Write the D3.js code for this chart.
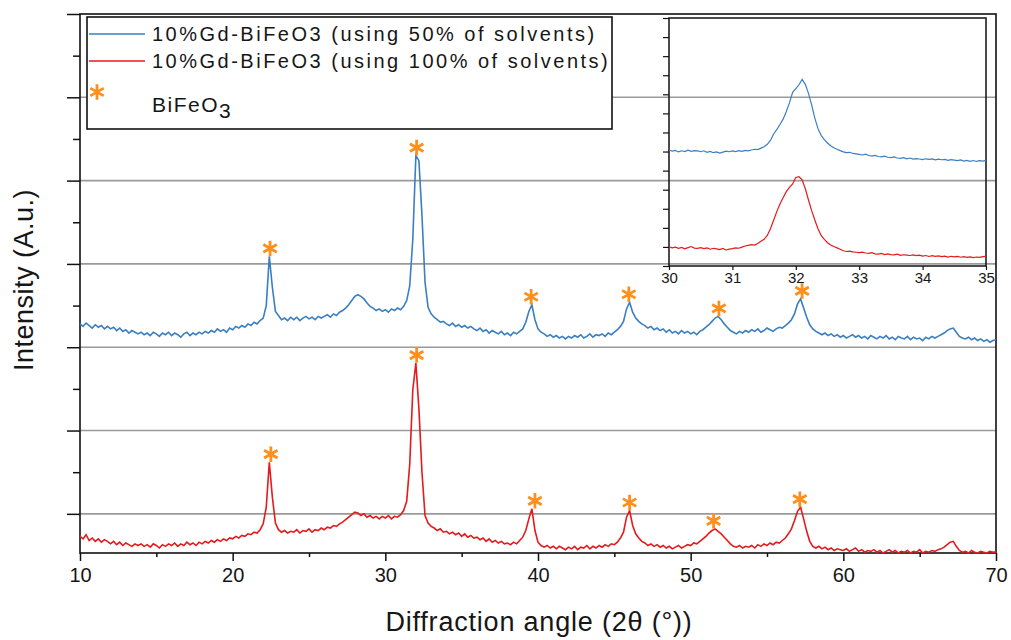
<!DOCTYPE html>
<html>
<head>
<meta charset="utf-8">
<script src="https://cdn.jsdelivr.net/npm/d3@7"></script>
<style>
  body { margin: 0; background: #fff; }
  svg { display: block; }
  text { font-family: "Liberation Sans", Arial, sans-serif; fill: #161616; }
</style>
</head>
<body>
<svg id="chart" width="1011" height="640"></svg>
<script>
// XRD scans: 2θ from scanStart in steps of scanStep, intensity in a.u.
const scanStart = 10, scanStep = 0.2;

// 10%Gd-BiFeO3, 50% of solvents
const intensity50 = [
  328,325,329,326,323,327,324,326,322,325,
  322,324,320,323,319,321,317,320,318,316,
  318,315,317,314,318,316,313,317,315,318,
  314,317,315,312,316,318,314,317,315,318,
  316,319,317,320,318,322,319,321,318,323,
  321,325,323,326,324,328,326,330,328,332,
  335,350,409,372,343,338,333,335,332,336,
  333,336,332,335,337,334,336,333,337,335,
  337,339,336,340,338,342,344,347,351,356,
  361,363,361,358,353,349,347,344,346,343,
  345,342,346,344,347,345,349,356,374,430,
  530,524,458,378,348,340,336,333,330,331,
  328,326,329,325,327,324,326,323,325,322,
  320,323,319,321,317,320,318,316,319,315,
  317,314,318,316,319,322,330,343,351,333,
  322,318,316,313,315,312,314,311,313,310,
  313,311,314,312,315,311,313,316,312,315,
  314,316,313,317,315,318,321,325,331,346,
  354,342,335,331,328,326,323,325,321,323,
  320,322,318,321,317,319,316,320,317,319,
  316,318,315,319,321,324,327,331,335,337,
  333,328,324,320,318,316,319,317,320,318,
  321,319,322,318,320,323,321,319,322,324,
  323,326,329,333,340,352,358,347,336,327,
  322,319,317,315,317,314,316,313,315,312,
  314,311,313,315,312,314,311,313,310,314,
  312,310,313,311,314,310,312,309,313,311,
  310,313,309,312,310,311,308,312,310,313,
  311,313,315,317,320,322,323,318,313,311,
  310,312,309,311,308,310,307,309,306,308,
  309
];

// 10%Gd-BiFeO3, 100% of solvents
const intensity100 = [
  73,70,75,68,71,67,70,66,69,67,
  64,67,63,66,62,65,63,61,64,62,
  64,61,63,60,64,62,59,63,61,64,
  62,65,61,64,62,66,63,65,62,66,
  64,67,65,68,66,69,67,70,68,71,
  70,73,71,74,73,76,75,78,77,81,
  88,108,162,120,89,81,78,80,77,79,
  78,81,77,80,79,82,78,81,80,83,
  81,84,83,86,85,88,90,93,96,99,
  102,101,98,100,96,98,95,97,94,97,
  95,98,94,97,96,99,104,115,160,249,
  281,226,150,98,89,85,83,80,82,78,
  79,76,78,75,77,73,76,72,74,71,
  72,69,71,67,70,66,68,65,67,64,
  65,63,66,64,68,72,80,94,106,80,
  66,62,60,62,59,61,58,61,59,57,
  60,58,61,57,60,59,62,58,61,59,
  62,60,63,61,64,63,66,71,78,96,
  104,86,76,71,67,65,62,64,61,63,
  60,62,59,61,58,60,62,59,61,63,
  62,65,64,67,70,73,77,80,82,79,
  76,72,68,64,61,60,62,59,61,60,
  62,59,63,61,64,62,65,63,66,65,
  68,71,76,82,92,103,108,94,79,67,
  61,59,61,58,60,57,59,56,58,57,
  56,58,55,57,59,55,57,54,56,55,
  57,54,56,53,55,57,54,56,53,55,
  54,56,53,55,54,57,53,55,54,56,
  55,57,58,60,63,66,67,61,56,54,
  55,53,56,54,53,55,54,53,55,54,
  54
];

// Inset: 2θ 30–35° in steps of insetStep, offset intensity (a.u.)
const insetStart = 30, insetStep = 0.05;
const inset50 = [
  6.08,6.02,6.06,5.98,6.04,6.00,6.07,6.01,6.05,6.03,
  5.99,6.04,5.96,6.01,5.94,5.98,5.92,5.97,6.02,5.99,
  6.03,6.00,6.05,6.01,6.06,6.04,6.08,6.12,6.10,6.18,
  6.25,6.38,6.58,6.92,7.15,7.42,7.70,8.10,8.55,9.10,
  9.30,9.50,9.78,9.52,9.05,8.45,7.75,7.20,6.85,6.62,
  6.45,6.30,6.20,6.12,6.05,5.98,5.94,5.96,5.90,5.88,
  5.85,5.82,5.86,5.79,5.76,5.80,5.74,5.72,5.76,5.70,
  5.68,5.72,5.66,5.64,5.68,5.62,5.66,5.60,5.63,5.61,
  5.58,5.62,5.59,5.61,5.56,5.60,5.57,5.59,5.54,5.58,
  5.55,5.52,5.56,5.50,5.54,5.49,5.53,5.48,5.52,5.50,
  5.54
];
const inset100 = [
  1.01,0.95,0.99,0.93,0.97,0.90,0.96,1.02,0.94,0.92,
  0.96,0.91,0.95,0.88,0.93,0.90,0.86,0.92,0.84,0.88,
  0.91,0.95,0.93,0.99,1.05,1.08,1.12,1.10,1.18,1.30,
  1.40,1.60,1.95,2.40,2.85,3.25,3.58,3.90,4.12,4.30,
  4.64,4.68,4.52,4.05,3.46,2.90,2.41,1.95,1.60,1.40,
  1.22,1.10,1.02,0.95,0.88,0.80,0.76,0.78,0.74,0.72,
  0.70,0.73,0.68,0.66,0.70,0.64,0.62,0.66,0.60,0.63,
  0.60,0.58,0.62,0.56,0.59,0.57,0.55,0.58,0.54,0.57,
  0.52,0.55,0.50,0.54,0.51,0.53,0.49,0.52,0.47,0.51,
  0.48,0.50,0.46,0.49,0.45,0.48,0.44,0.47,0.45,0.49,
  0.50
];

// BiFeO3 reflections marked on each pattern (2θ, °)
const peaks50 = [22.45, 32.05, 39.55, 45.95, 51.85, 57.3];
const peaks100 = [22.5, 32.05, 39.8, 46.0, 51.5, 57.15];

const seriesNames = [
  "10%Gd-BiFeO3 (using 50% of solvents)",
  "10%Gd-BiFeO3 (using 100% of solvents)"
];
const phaseName = "BiFeO";
const phaseSub = "3";

const xMajorTicks = [10, 20, 30, 40, 50, 60, 70];
const xMinorTicks = [15, 25, 35, 45, 55, 65];
const yGridLines = [100, 200, 300, 400, 500, 600];
const yMajorTicks = [100, 200, 300, 400, 500, 600, 700];
const yMinorTicks = [150, 250, 350, 450, 550, 650];
const insetXTicks = [30, 31, 32, 33, 34, 35];
const insetYTicks = [0, 1, 2, 3, 4, 5, 6, 7, 8, 9, 10, 11, 12, 13];

const BLUE = "#3a7fc1", RED = "#e41a1c", STAR = "#ff8f1c";

const svg = d3.select("#chart");

// main plot scales
const x = d3.scaleLinear().domain([10, 70]).range([80, 996]);
const y = d3.scaleLinear().domain([53, 700]).range([553, 14]);

// grid
svg.append("g").selectAll("line").data(yGridLines).join("line")
  .attr("x1", x.range()[0]).attr("x2", x.range()[1])
  .attr("y1", d => y(d)).attr("y2", d => y(d))
  .attr("stroke", "#9a9a9a").attr("stroke-width", 1.6);

// axes
function styleAxis(g) {
  g.select(".domain").remove();
  g.selectAll(".tick line").attr("stroke", "#111").attr("stroke-width", 1.5);
  g.selectAll("text").style("font-size", "20px").attr("fill", "#161616");
}
svg.append("g").attr("transform", `translate(0,${y.range()[0]})`)
  .call(d3.axisBottom(x).tickValues(xMajorTicks).tickSize(8).tickPadding(7).tickFormat(d3.format("d")))
  .call(styleAxis);
svg.append("g").attr("transform", `translate(0,${y.range()[0]})`)
  .call(d3.axisBottom(x).tickValues(xMinorTicks).tickSize(4).tickFormat(""))
  .call(styleAxis);
svg.append("g").attr("transform", `translate(${x.range()[0]},0)`)
  .call(d3.axisLeft(y).tickValues(yMajorTicks).tickSize(13).tickFormat(""))
  .call(styleAxis);
svg.append("g").attr("transform", `translate(${x.range()[0]},0)`)
  .call(d3.axisLeft(y).tickValues(yMinorTicks).tickSize(7).tickFormat(""))
  .call(styleAxis);

// frame
svg.append("rect")
  .attr("x", x.range()[0]).attr("y", y.range()[1])
  .attr("width", x.range()[1] - x.range()[0]).attr("height", y.range()[0] - y.range()[1])
  .attr("fill", "none").attr("stroke", "#111").attr("stroke-width", 1.6);

// patterns
const angleAt = i => scanStart + i * scanStep;
const line = d3.line().x((d, i) => x(angleAt(i))).y(d => y(d));
svg.append("path").datum(intensity50).attr("d", line)
  .attr("fill", "none").attr("stroke", BLUE).attr("stroke-width", 1.6);
svg.append("path").datum(intensity100).attr("d", line)
  .attr("fill", "none").attr("stroke", RED).attr("stroke-width", 1.6);

// peak markers sit just above the local maximum of each pattern
const star = d3.symbol().type(d3.symbolAsterisk).size(170);
function markPeaks(values, peaks) {
  const pts = peaks.map(p => {
    const top = d3.max(values.filter((v, i) => Math.abs(angleAt(i) - p) <= 0.3));
    return [x(p), y(top) - 8];
  });
  svg.append("g").selectAll("path").data(pts).join("path")
    .attr("transform", d => `translate(${d[0]},${d[1]})`)
    .attr("d", star).attr("fill", "none")
    .attr("stroke", STAR).attr("stroke-width", 2.8).attr("stroke-linecap", "butt");
}
markPeaks(intensity50, peaks50);
markPeaks(intensity100, peaks100);

// axis titles
svg.append("text").attr("x", 539).attr("y", 631)
  .attr("text-anchor", "middle").style("font-size", "27px").style("letter-spacing", "0.8px")
  .text("Diffraction angle (2θ (°))");
svg.append("text").attr("transform", "translate(33,280) rotate(-90)")
  .attr("text-anchor", "middle").style("font-size", "27px").style("letter-spacing", "0.5px")
  .text("Intensity (A.u.)");

// legend
const lg = svg.append("g");
lg.append("rect").attr("x", 87).attr("y", 17).attr("width", 525).attr("height", 112)
  .attr("fill", "#fff").attr("stroke", "#111").attr("stroke-width", 1.6);
[BLUE, RED].forEach((c, i) => {
  const yy = 34 + i * 27;
  lg.append("line").attr("x1", 89).attr("x2", 145).attr("y1", yy).attr("y2", yy)
    .attr("stroke", c).attr("stroke-width", 1.5);
  lg.append("text").attr("x", 152).attr("y", yy + 7)
    .style("font-size", "20px").style("letter-spacing", "2.5px")
    .text(seriesNames[i]);
});
lg.append("path").attr("transform", "translate(97,92)").attr("d", star)
  .attr("fill", "none").attr("stroke", STAR).attr("stroke-width", 2.8);
const pt = lg.append("text").attr("x", 152).attr("y", 112)
  .style("font-size", "21px").style("letter-spacing", "1.5px");
pt.append("tspan").text(phaseName);
pt.append("tspan").attr("dy", 6).text(phaseSub);

// inset: close-up of the main reflection near 32°
const xi = d3.scaleLinear().domain([30, 35]).range([669, 986]);
const yi = d3.scaleLinear().domain([0, 13]).range([266, 18]);
const ig = svg.append("g");
ig.append("g").attr("transform", `translate(0,${yi.range()[0]})`)
  .call(d3.axisBottom(xi).tickValues(insetXTicks).tickSize(4).tickPadding(2).tickFormat(d3.format("d")))
  .call(g => {
    g.select(".domain").remove();
    g.selectAll(".tick line").attr("stroke", "#111").attr("stroke-width", 1.2);
    g.selectAll("text").style("font-size", "15px").attr("fill", "#1d1d1d");
  });
ig.append("g").attr("transform", `translate(${xi.range()[0]},0)`)
  .call(d3.axisLeft(yi).tickValues(insetYTicks).tickSize(6).tickFormat(""))
  .call(g => {
    g.select(".domain").remove();
    g.selectAll(".tick line").attr("stroke", "#111").attr("stroke-width", 1.2);
  });
ig.append("rect")
  .attr("x", xi.range()[0]).attr("y", yi.range()[1])
  .attr("width", xi.range()[1] - xi.range()[0]).attr("height", yi.range()[0] - yi.range()[1])
  .attr("fill", "none").attr("stroke", "#111").attr("stroke-width", 1.5);
const insetLine = d3.line().x((d, i) => xi(insetStart + i * insetStep)).y(d => yi(d));
ig.append("path").datum(inset50).attr("d", insetLine)
  .attr("fill", "none").attr("stroke", BLUE).attr("stroke-width", 1.2);
ig.append("path").datum(inset100).attr("d", insetLine)
  .attr("fill", "none").attr("stroke", RED).attr("stroke-width", 1.2);
</script>
</body>
</html>
